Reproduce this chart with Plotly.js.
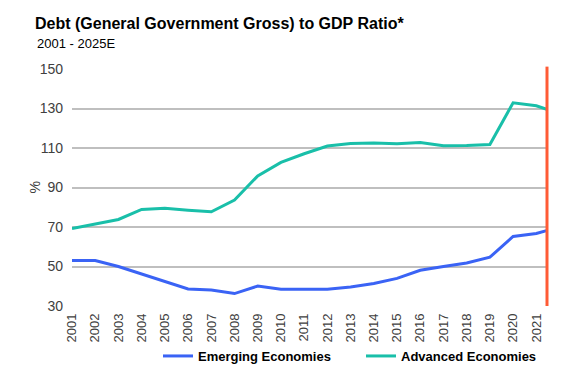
<!DOCTYPE html>
<html>
<head>
<meta charset="utf-8">
<script src="https://cdn.plot.ly/plotly-3.0.1.min.js"></script>
<style>html,body{margin:0;padding:0;background:#fff;}#chart{width:585px;height:378px;}</style>
</head>
<body>
<div id="chart"></div>
<script>
// Data (last point is cut off at the right edge, as in the reference)
const years = [2001,2002,2003,2004,2005,2006,2007,2008,2009,2010,2011,2012,2013,2014,2015,2016,2017,2018,2019,2020,2021,2022];
const emerging = [53.0,53.0,50.0,46.2,42.5,38.6,38.1,36.3,40.1,38.5,38.5,38.5,39.6,41.4,44.0,48.1,50.0,51.8,54.7,65.2,66.7,70.0];
const advanced = [69.2,71.4,73.8,78.9,79.5,78.5,77.7,83.6,95.9,102.7,107.1,111.0,112.3,112.5,112.2,112.8,111.1,111.3,111.8,132.9,131.4,127.3];
const tickYears = [2001,2002,2003,2004,2005,2006,2007,2008,2009,2010,2011,2012,2013,2014,2015,2016,2017,2018,2019,2020,2021];
const yTicks = [30,50,70,90,110,130,150];
const seriesNames = ["Emerging Economies","Advanced Economies"];

const sans = "'Liberation Sans', Arial, sans-serif";
const traces = [
  {x: years, y: emerging, name: seriesNames[0], type: 'scatter', mode: 'lines',
   line: {color: '#3A63F5', width: 3}, cliponaxis: true},
  {x: years, y: advanced, name: seriesNames[1], type: 'scatter', mode: 'lines',
   line: {color: '#19BFA9', width: 3}, cliponaxis: true}
];
const layout = {
  width: 585, height: 378,
  margin: {l: 72, r: 38, t: 69, b: 72, autoexpand: false},
  paper_bgcolor: '#fff', plot_bgcolor: '#fff',
  title: {text: '<b>Debt (General Government Gross) to GDP Ratio*</b>',
          font: {family: sans, size: 16, color: '#000'},
          xref: 'container', x: 35/585, xanchor: 'left', yref: 'container', y: 1 - 18/378, yanchor: 'top'},
  annotations: [
    {text: '2001 - 2025E', xref: 'paper', yref: 'paper', x: (35-72)/475.3, xanchor: 'left',
     y: 1 + (69-34)/236.7, yanchor: 'top', showarrow: false,
     font: {family: sans, size: 13, color: '#000'}},
    {text: '%', textangle: -90, xref: 'paper', yref: 'paper', x: (34-72)/475.3, xanchor: 'center',
     y: 0.5, yanchor: 'middle', showarrow: false,
     font: {family: sans, size: 14, color: '#404040'}}
  ],
  xaxis: {range: [2001, 2021.46], tickvals: tickYears, ticktext: tickYears.map(String), tickangle: -90,
          showgrid: false, zeroline: false, showline: false, ticks: '', automargin: false, ticklabelstandoff: 4,
          tickfont: {family: sans, size: 13, color: '#404040'}},
  yaxis: {range: [30, 150], tickvals: yTicks, showgrid: true, gridcolor: '#BFBFBF', gridwidth: 2,
          zeroline: false, showline: false, ticks: '', ticklabelstandoff: 8, automargin: false,
          tickfont: {family: sans, size: 14, color: '#404040'}},
  shapes: [{type: 'line', xref: 'paper', yref: 'paper', x0: 1, x1: 1, y0: 0, y1: 1.01,
            line: {color: '#FF5B35', width: 3}}],
  legend: {orientation: 'h', xref: 'container', x: 158/585, xanchor: 'left',
           yref: 'container', y: 1 - 356/378, yanchor: 'middle',
           font: {family: sans, size: 13, color: '#000', weight: 'bold'},
           entrywidth: 158, entrywidthmode: 'pixels', bgcolor: 'rgba(0,0,0,0)'},
  showlegend: true
};
Plotly.newPlot('chart', traces, layout, {displayModeBar: false, staticPlot: true});
</script>
</body>
</html>
